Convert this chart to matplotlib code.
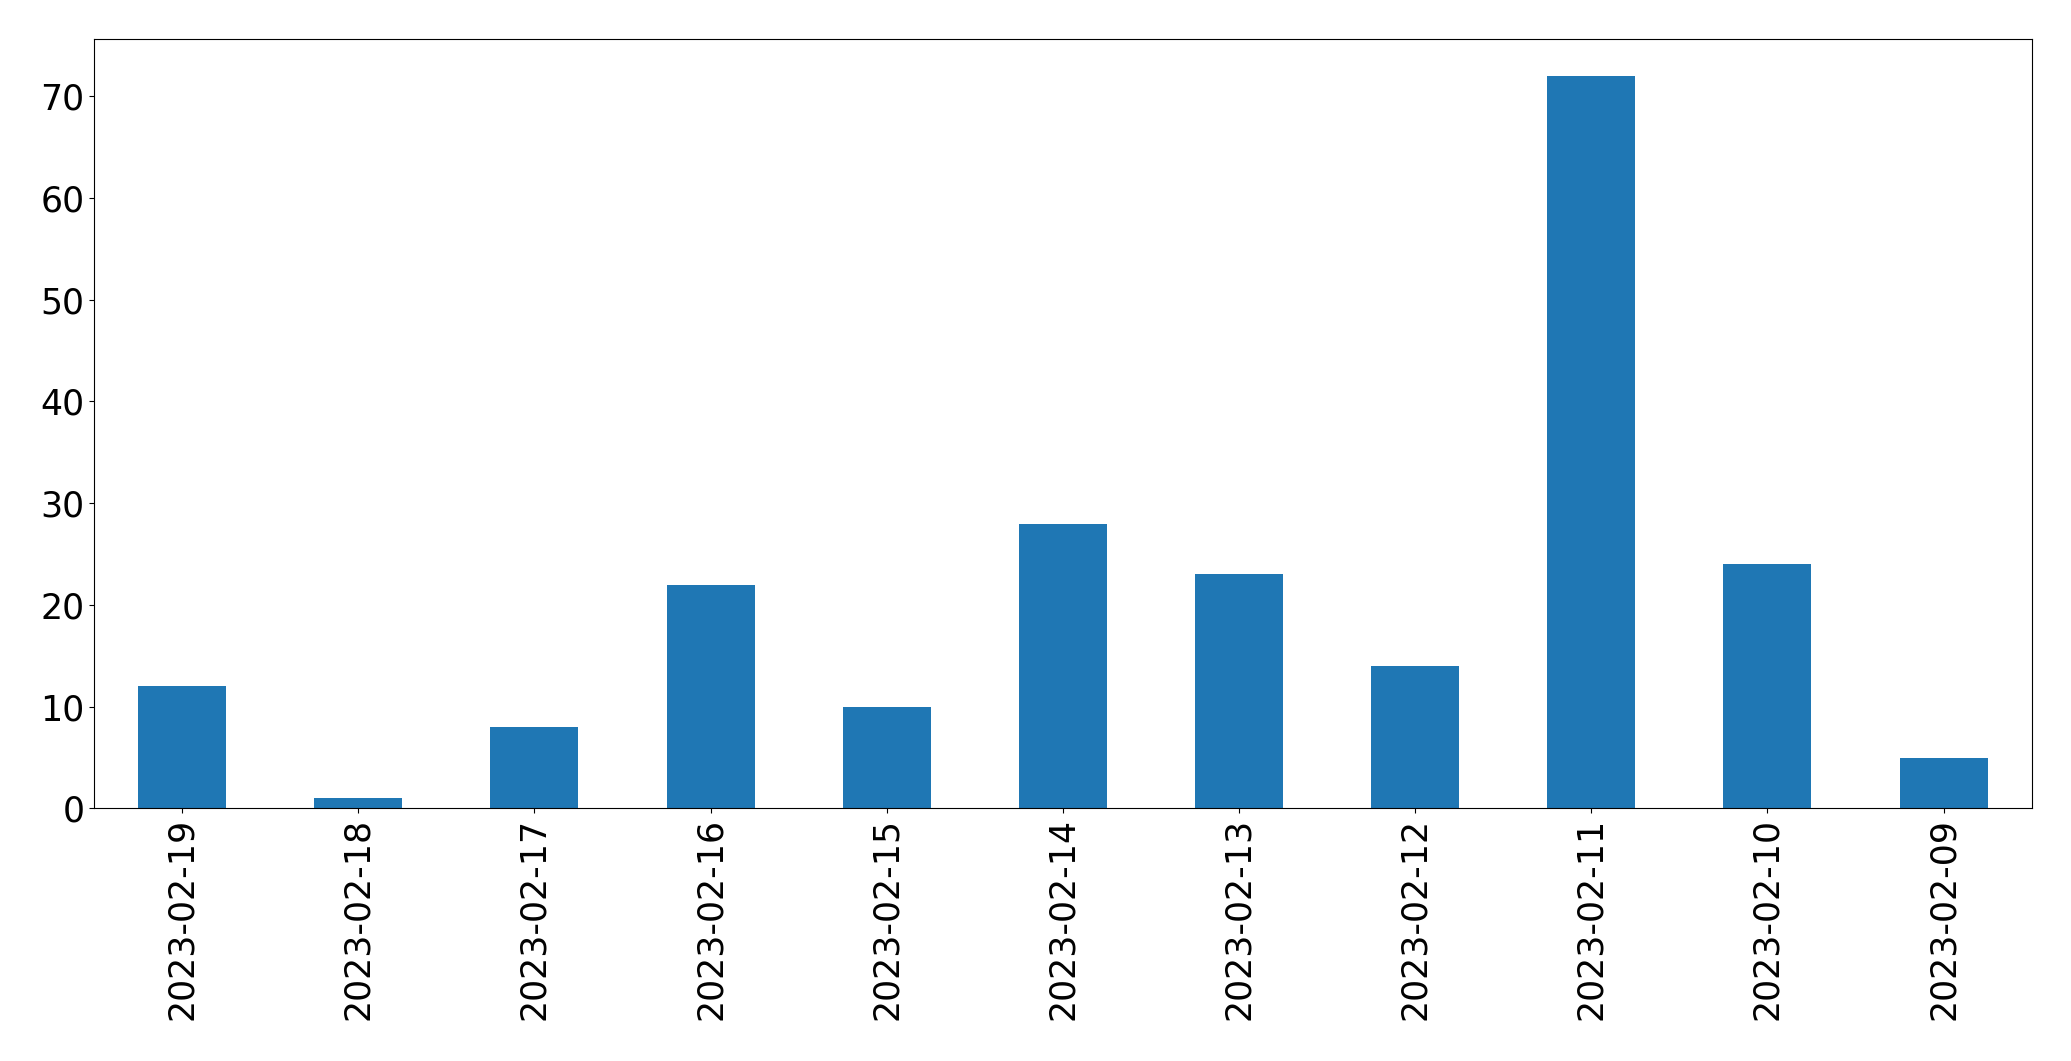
import matplotlib
matplotlib.use('Agg')
import matplotlib.pyplot as plt
import pandas as pd

# daily counts, newest first (as in the reference)
dates = ['2023-02-19', '2023-02-18', '2023-02-17', '2023-02-16', '2023-02-15',
         '2023-02-14', '2023-02-13', '2023-02-12', '2023-02-11', '2023-02-10',
         '2023-02-09']
counts = [12, 1, 8, 22, 10, 28, 23, 14, 72, 24, 5]

series = pd.Series(counts, index=dates)

fig, ax = plt.subplots(figsize=(20.71, 10.61), dpi=100)
series.plot.bar(ax=ax, color='#1f77b4', fontsize=25)
fig.subplots_adjust(left=0.0454, right=0.981, top=0.963, bottom=0.238)
fig.savefig('out.png', dpi=100)
